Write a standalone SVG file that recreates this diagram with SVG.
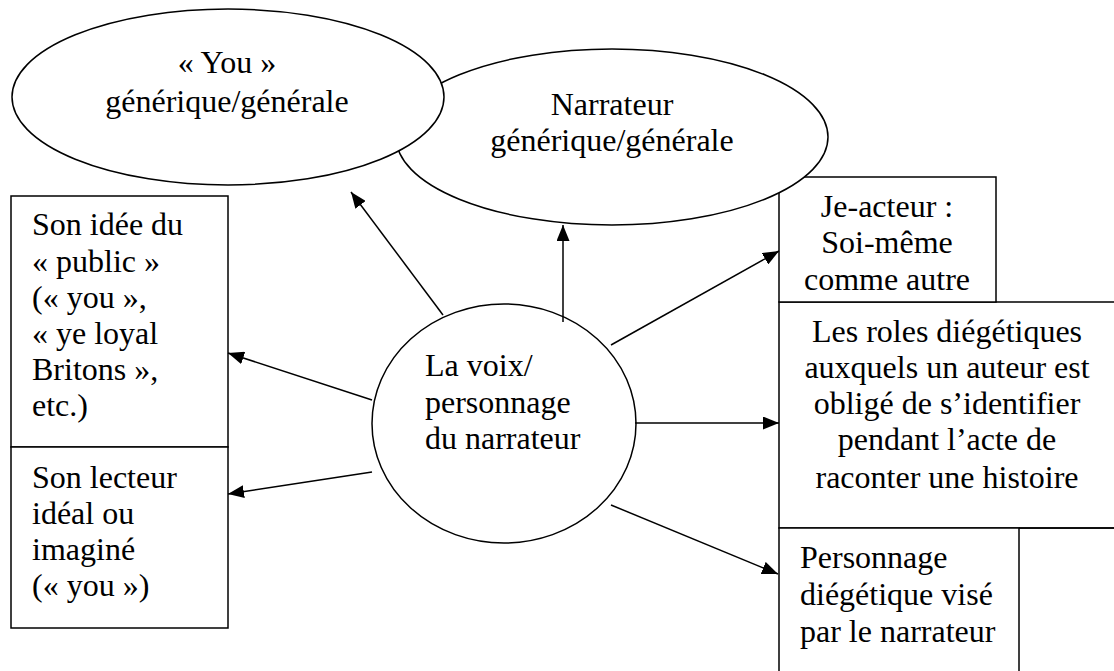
<svg xmlns="http://www.w3.org/2000/svg" width="1114" height="671" viewBox="0 0 1114 671">
<style>
.s{fill:#fff;stroke:#000;stroke-width:1.5}
.t{font-family:"Liberation Serif","Times New Roman",serif;font-size:32px;fill:#000}
.m{text-anchor:middle}
.c line{stroke:#000;stroke-width:1.5;marker-end:url(#ah)}
</style>
<defs>
<marker id="ah" markerWidth="16" markerHeight="13" refX="16" refY="6.5" orient="auto" markerUnits="userSpaceOnUse"><path d="M0,0 L16,6.5 L0,13 z" fill="#000"/></marker>
</defs>
<rect width="1114" height="671" fill="#fff"/>
<g id="public">
<rect class="s" x="11" y="196" width="217" height="251"/>
<text class="t" x="32" y="235">Son idée du</text>
<text class="t" x="32" y="272">« public »</text>
<text class="t" x="32" y="308">(« you »,</text>
<text class="t" x="32" y="344">« ye loyal</text>
<text class="t" x="32" y="380">Britons »,</text>
<text class="t" x="32" y="416">etc.)</text>
</g>
<g id="lecteur">
<rect class="s" x="11" y="447" width="217" height="181"/>
<text class="t" x="32" y="488">Son lecteur</text>
<text class="t" x="32" y="524">idéal ou</text>
<text class="t" x="32" y="560">imaginé</text>
<text class="t" x="32" y="596">(« you »)</text>
</g>
<g id="roles">
<rect class="s" x="779" y="302" width="345" height="226"/>
<text class="t m" x="947" y="342">Les roles diégétiques</text>
<text class="t m" x="947" y="378">auxquels un auteur est</text>
<text class="t m" x="947" y="414">obligé de s’identifier</text>
<text class="t m" x="947" y="450">pendant l’acte de</text>
<text class="t m" x="947" y="488">raconter une histoire</text>
</g>
<g id="personnage">
<rect class="s" x="779" y="528" width="240" height="160"/>
<line x1="1019" y1="528" x2="1114" y2="528" stroke="#000" stroke-width="1.5"/>
<text class="t" x="800" y="568">Personnage</text>
<text class="t" x="800" y="605">diégétique visé</text>
<text class="t" x="800" y="642">par le narrateur</text>
</g>
<g id="je-acteur">
<rect class="s" x="779" y="177" width="217" height="125"/>
<text class="t m" x="887" y="217">Je-acteur :</text>
<text class="t m" x="887" y="253">Soi-même</text>
<text class="t m" x="887" y="290">comme autre</text>
</g>
<g id="narrateur">
<ellipse class="s" cx="612" cy="137" rx="216" ry="88"/>
<text class="t m" x="612" y="115">Narrateur</text>
<text class="t m" x="612" y="151">générique/générale</text>
</g>
<g id="you">
<ellipse class="s" cx="228" cy="97" rx="216" ry="88"/>
<text class="t m" x="227" y="73">« You »</text>
<text class="t m" x="227" y="112">générique/générale</text>
</g>
<g id="voix">
<ellipse class="s" cx="504" cy="423.5" rx="132" ry="119.5"/>
<text class="t" x="425" y="376">La voix/</text>
<text class="t" x="425" y="413">personnage</text>
<text class="t" x="425" y="449">du narrateur</text>
</g>
<g id="connectors" class="c">
<line x1="443" y1="315" x2="351" y2="192"/>
<line x1="563" y1="322" x2="563" y2="225"/>
<line x1="611" y1="345" x2="779" y2="251"/>
<line x1="635" y1="423" x2="779" y2="423"/>
<line x1="611" y1="505" x2="778" y2="574"/>
<line x1="372" y1="400" x2="228" y2="353"/>
<line x1="372" y1="472" x2="228" y2="494"/>
</g>
</svg>
